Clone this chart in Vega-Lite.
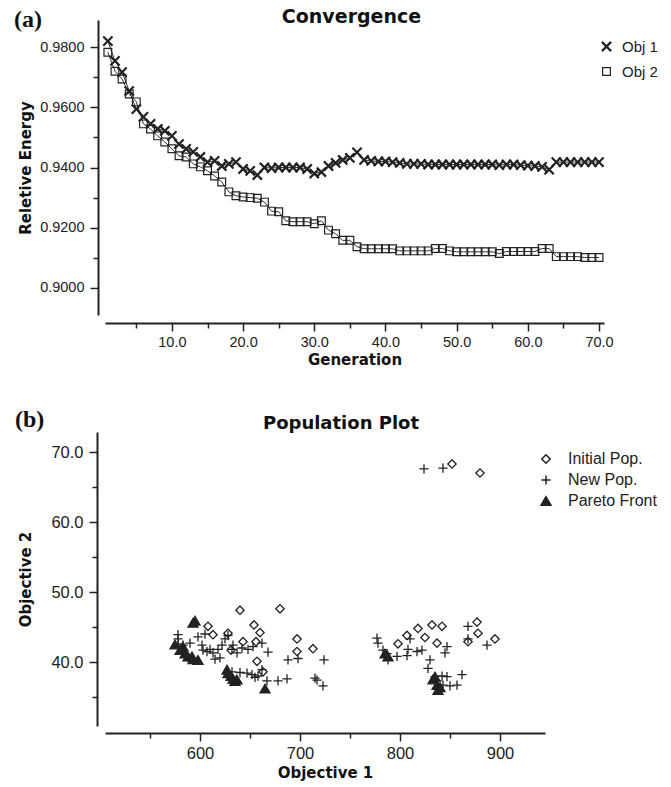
{
  "$schema": "https://vega.github.io/schema/vega-lite/v6.json",
  "background": "white",
  "padding": {"left": 13, "top": 8, "right": 5, "bottom": 5},
  "bounds": "flush",
  "spacing": 117,
  "resolve": {
    "scale": {"x": "independent", "y": "independent", "shape": "independent", "size": "independent", "strokeWidth": "independent", "fill": "independent"},
    "legend": {"shape": "independent", "fill": "independent", "size": "independent", "strokeWidth": "independent"}
  },
  "config": {
    "view": {"stroke": null},
    "font": "Liberation Sans",
    "axis": {
      "grid": false,
      "domainColor": "#222",
      "domainWidth": 2,
      "tickColor": "#222",
      "tickWidth": 1.5,
      "labelFont": "Liberation Sans",
      "labelFontSize": 14.5,
      "labelColor": "#222",
      "titleFont": "DejaVu Sans",
      "titleFontWeight": "bold",
      "titleFontSize": 15,
      "titleColor": "#111"
    },
    "legend": {"padding": 0}
  },
  "vconcat": [
    {
      "width": 499,
      "height": 295,
      "title": {"text": "Convergence", "font": "DejaVu Sans", "fontSize": 19, "fontWeight": "bold", "color": "#111", "offset": -19, "dx": -3},
      "data": {"values": [
        {"g":1,"Obj 1":0.9820,"Obj 2":0.9783},{"g":2,"Obj 1":0.9754,"Obj 2":0.9720},{"g":3,"Obj 1":0.9717,"Obj 2":0.9694},
        {"g":4,"Obj 1":0.9654,"Obj 2":0.9644},{"g":5,"Obj 1":0.9594,"Obj 2":0.9618},{"g":6,"Obj 1":0.9568,"Obj 2":0.9545},
        {"g":7,"Obj 1":0.9545,"Obj 2":0.9528},{"g":8,"Obj 1":0.9528,"Obj 2":0.9505},{"g":9,"Obj 1":0.9522,"Obj 2":0.9485},
        {"g":10,"Obj 1":0.9505,"Obj 2":0.9462},{"g":11,"Obj 1":0.9478,"Obj 2":0.9439},{"g":12,"Obj 1":0.9462,"Obj 2":0.9435},
        {"g":13,"Obj 1":0.9452,"Obj 2":0.9412},{"g":14,"Obj 1":0.9435,"Obj 2":0.9402},{"g":15,"Obj 1":0.9418,"Obj 2":0.9389},
        {"g":16,"Obj 1":0.9422,"Obj 2":0.9372},{"g":17,"Obj 1":0.9405,"Obj 2":0.9352},{"g":18,"Obj 1":0.9412,"Obj 2":0.9319},
        {"g":19,"Obj 1":0.9418,"Obj 2":0.9306},{"g":20,"Obj 1":0.9395,"Obj 2":0.9302},{"g":21,"Obj 1":0.9389,"Obj 2":0.9300},
        {"g":22,"Obj 1":0.9375,"Obj 2":0.9298},{"g":23,"Obj 1":0.9400,"Obj 2":0.9285},{"g":24,"Obj 1":0.9398,"Obj 2":0.9255},
        {"g":25,"Obj 1":0.9400,"Obj 2":0.9253},{"g":26,"Obj 1":0.9400,"Obj 2":0.9223},{"g":27,"Obj 1":0.9400,"Obj 2":0.9220},
        {"g":28,"Obj 1":0.9400,"Obj 2":0.9220},{"g":29,"Obj 1":0.9395,"Obj 2":0.9220},{"g":30,"Obj 1":0.9380,"Obj 2":0.9213},
        {"g":31,"Obj 1":0.9385,"Obj 2":0.9223},{"g":32,"Obj 1":0.9405,"Obj 2":0.9192},{"g":33,"Obj 1":0.9415,"Obj 2":0.9180},
        {"g":34,"Obj 1":0.9425,"Obj 2":0.9158},{"g":35,"Obj 1":0.9432,"Obj 2":0.9158},{"g":36,"Obj 1":0.9450,"Obj 2":0.9137},
        {"g":37,"Obj 1":0.9425,"Obj 2":0.9130},{"g":38,"Obj 1":0.9422,"Obj 2":0.9130},{"g":39,"Obj 1":0.9420,"Obj 2":0.9130},
        {"g":40,"Obj 1":0.9420,"Obj 2":0.9130},{"g":41,"Obj 1":0.9418,"Obj 2":0.9130},{"g":42,"Obj 1":0.9415,"Obj 2":0.9123},
        {"g":43,"Obj 1":0.9412,"Obj 2":0.9123},{"g":44,"Obj 1":0.9412,"Obj 2":0.9123},{"g":45,"Obj 1":0.9412,"Obj 2":0.9123},
        {"g":46,"Obj 1":0.9410,"Obj 2":0.9123},{"g":47,"Obj 1":0.9410,"Obj 2":0.9131},{"g":48,"Obj 1":0.9410,"Obj 2":0.9131},
        {"g":49,"Obj 1":0.9410,"Obj 2":0.9123},{"g":50,"Obj 1":0.9410,"Obj 2":0.9120},{"g":51,"Obj 1":0.9410,"Obj 2":0.9120},
        {"g":52,"Obj 1":0.9410,"Obj 2":0.9120},{"g":53,"Obj 1":0.9410,"Obj 2":0.9120},{"g":54,"Obj 1":0.9410,"Obj 2":0.9120},
        {"g":55,"Obj 1":0.9410,"Obj 2":0.9120},{"g":56,"Obj 1":0.9408,"Obj 2":0.9114},{"g":57,"Obj 1":0.9410,"Obj 2":0.9121},
        {"g":58,"Obj 1":0.9410,"Obj 2":0.9121},{"g":59,"Obj 1":0.9408,"Obj 2":0.9121},{"g":60,"Obj 1":0.9406,"Obj 2":0.9121},
        {"g":61,"Obj 1":0.9405,"Obj 2":0.9121},{"g":62,"Obj 1":0.9402,"Obj 2":0.9131},{"g":63,"Obj 1":0.9393,"Obj 2":0.9131},
        {"g":64,"Obj 1":0.9418,"Obj 2":0.9104},{"g":65,"Obj 1":0.9418,"Obj 2":0.9104},{"g":66,"Obj 1":0.9418,"Obj 2":0.9104},
        {"g":67,"Obj 1":0.9418,"Obj 2":0.9104},{"g":68,"Obj 1":0.9418,"Obj 2":0.9101},{"g":69,"Obj 1":0.9418,"Obj 2":0.9101},
        {"g":70,"Obj 1":0.9418,"Obj 2":0.9101}
      ]},
      "encoding": {
        "x": {"field": "g", "type": "quantitative", "scale": {"domain": [0.6, 70.7], "nice": false, "zero": false},
          "axis": {"title": "Generation", "offset": 8, "values": [5,10,15,20,25,30,35,40,45,50,55,60,65,70],
            "labelExpr": "datum.value % 10 == 0 ? format(datum.value, '.1f') : ''",
            "tickSize": {"condition": {"test": "datum.value % 10 == 0", "value": 8}, "value": 5},
            "labelPadding": 4, "titlePadding": 4}},
        "y": {"field": "value", "type": "quantitative", "scale": {"domain": [0.891, 0.989], "nice": false, "zero": false},
          "axis": {"title": "Reletive Energy", "offset": 7, "values": [0.90,0.91,0.92,0.93,0.94,0.95,0.96,0.97,0.98],
            "labelExpr": "round(datum.value*100) % 2 == 0 ? format(datum.value, '.4f') : ''",
            "tickSize": {"condition": {"test": "round(datum.value*100) % 2 == 0", "value": 8}, "value": 5},
            "labelPadding": 6, "titlePadding": 6}}
      },
      "layer": [
        {
          "transform": [{"fold": ["Obj 1", "Obj 2"], "as": ["series", "value"]}],
          "mark": {"type": "line", "color": "#333", "strokeWidth": 1},
          "encoding": {"detail": {"field": "series"}}
        },
        {
          "transform": [{"fold": ["Obj 1", "Obj 2"], "as": ["series", "value"]}],
          "mark": {"type": "point", "filled": false, "color": "#222", "opacity": 1},
          "encoding": {
            "shape": {"field": "series", "type": "nominal",
              "scale": {"domain": ["Obj 1", "Obj 2"], "range": ["M-1,-1L1,1M-1,1L1,-1", "square"]},
              "legend": {"title": null, "orient": "right", "offset": -24, "padding": 19, "labelFont": "Liberation Sans", "labelFontSize": 15,
                "labelColor": "#222", "symbolStrokeColor": "#222", "symbolFillColor": "transparent", "labelOffset": 8, "rowPadding": 8}},
            "size": {"field": "series", "type": "nominal", "scale": {"domain": ["Obj 1", "Obj 2"], "range": [85, 60]},
              "legend": {"title": null, "orient": "right", "offset": -24, "padding": 19, "labelFont": "Liberation Sans", "labelFontSize": 15,
                "labelColor": "#222", "symbolStrokeColor": "#222", "symbolFillColor": "transparent", "labelOffset": 8, "rowPadding": 8}},
            "strokeWidth": {"field": "series", "type": "nominal", "scale": {"domain": ["Obj 1", "Obj 2"], "range": [2.2, 1.2]},
              "legend": {"title": null, "orient": "right", "offset": -24, "padding": 19, "labelFont": "Liberation Sans", "labelFontSize": 15,
                "labelColor": "#222", "symbolStrokeColor": "#222", "symbolFillColor": "transparent", "labelOffset": 8, "rowPadding": 8}}
          }
        },
        {
          "data": {"values": [{"lab": "(a)", "g": -12.2, "value": 0.989}]},
          "mark": {"type": "text", "font": "Liberation Serif", "fontWeight": "bold", "fontSize": 24, "align": "left", "baseline": "middle", "color": "#111"},
          "encoding": {"text": {"field": "lab"}}
        }
      ]
    },
    {
      "width": 440,
      "height": 294,
      "title": {"text": "Population Plot", "font": "DejaVu Sans", "fontSize": 18, "fontWeight": "bold", "color": "#111", "offset": -25, "dx": 16},
      "data": {"values": [
        {"x":640,"y":47.4,"p":"Initial Pop."},{"x":680,"y":47.6,"p":"Initial Pop."},{"x":608,"y":45.1,"p":"Initial Pop."},
        {"x":613,"y":43.9,"p":"Initial Pop."},{"x":654,"y":45.3,"p":"Initial Pop."},{"x":660,"y":44.2,"p":"Initial Pop."},
        {"x":628,"y":44.1,"p":"Initial Pop."},{"x":643,"y":42.9,"p":"Initial Pop."},{"x":656,"y":42.9,"p":"Initial Pop."},
        {"x":697,"y":43.3,"p":"Initial Pop."},{"x":697,"y":41.5,"p":"Initial Pop."},{"x":713,"y":41.9,"p":"Initial Pop."},
        {"x":631,"y":41.7,"p":"Initial Pop."},{"x":657,"y":40.1,"p":"Initial Pop."},{"x":663,"y":38.6,"p":"Initial Pop."},
        {"x":818,"y":44.8,"p":"Initial Pop."},{"x":832,"y":45.3,"p":"Initial Pop."},{"x":842,"y":45.1,"p":"Initial Pop."},
        {"x":807,"y":43.8,"p":"Initial Pop."},{"x":825,"y":43.5,"p":"Initial Pop."},{"x":837,"y":42.7,"p":"Initial Pop."},
        {"x":798,"y":42.6,"p":"Initial Pop."},{"x":877,"y":45.7,"p":"Initial Pop."},{"x":878,"y":44.1,"p":"Initial Pop."},
        {"x":895,"y":43.3,"p":"Initial Pop."},{"x":868,"y":42.9,"p":"Initial Pop."},{"x":852,"y":68.3,"p":"Initial Pop."},
        {"x":880,"y":67.0,"p":"Initial Pop."},
        {"x":578,"y":43.9,"p":"New Pop."},{"x":578,"y":43.3,"p":"New Pop."},{"x":578,"y":42.6,"p":"New Pop."},
        {"x":583,"y":42.4,"p":"New Pop."},{"x":590,"y":42.7,"p":"New Pop."},{"x":598,"y":43.6,"p":"New Pop."},
        {"x":602,"y":42.4,"p":"New Pop."},{"x":603,"y":41.7,"p":"New Pop."},{"x":607,"y":41.5,"p":"New Pop."},
        {"x":610,"y":41.8,"p":"New Pop."},{"x":613,"y":41.3,"p":"New Pop."},{"x":615,"y":40.4,"p":"New Pop."},
        {"x":618,"y":41.8,"p":"New Pop."},{"x":622,"y":42.4,"p":"New Pop."},{"x":625,"y":43.3,"p":"New Pop."},
        {"x":628,"y":43.8,"p":"New Pop."},{"x":632,"y":41.8,"p":"New Pop."},{"x":633,"y":42.4,"p":"New Pop."},
        {"x":637,"y":41.3,"p":"New Pop."},{"x":642,"y":42.0,"p":"New Pop."},{"x":648,"y":41.8,"p":"New Pop."},
        {"x":653,"y":42.2,"p":"New Pop."},{"x":662,"y":42.7,"p":"New Pop."},{"x":668,"y":41.4,"p":"New Pop."},
        {"x":688,"y":40.3,"p":"New Pop."},{"x":698,"y":40.5,"p":"New Pop."},{"x":724,"y":40.3,"p":"New Pop."},
        {"x":605,"y":44.0,"p":"New Pop."},{"x":620,"y":40.6,"p":"New Pop."},
        {"x":632,"y":38.6,"p":"New Pop."},{"x":640,"y":38.5,"p":"New Pop."},{"x":647,"y":38.4,"p":"New Pop."},
        {"x":652,"y":38.2,"p":"New Pop."},{"x":655,"y":37.8,"p":"New Pop."},{"x":658,"y":38.0,"p":"New Pop."},
        {"x":662,"y":38.9,"p":"New Pop."},{"x":667,"y":37.3,"p":"New Pop."},{"x":678,"y":37.3,"p":"New Pop."},
        {"x":687,"y":37.6,"p":"New Pop."},{"x":715,"y":37.7,"p":"New Pop."},{"x":717,"y":37.4,"p":"New Pop."},
        {"x":723,"y":36.6,"p":"New Pop."},
        {"x":777,"y":43.4,"p":"New Pop."},{"x":778,"y":42.7,"p":"New Pop."},{"x":783,"y":41.7,"p":"New Pop."},
        {"x":787,"y":41.2,"p":"New Pop."},{"x":788,"y":40.3,"p":"New Pop."},{"x":797,"y":40.8,"p":"New Pop."},
        {"x":807,"y":40.9,"p":"New Pop."},{"x":808,"y":41.8,"p":"New Pop."},{"x":810,"y":43.3,"p":"New Pop."},
        {"x":817,"y":41.5,"p":"New Pop."},{"x":822,"y":41.7,"p":"New Pop."},{"x":830,"y":40.3,"p":"New Pop."},
        {"x":828,"y":39.1,"p":"New Pop."},{"x":845,"y":41.3,"p":"New Pop."},{"x":847,"y":42.2,"p":"New Pop."},
        {"x":862,"y":38.2,"p":"New Pop."},{"x":868,"y":45.1,"p":"New Pop."},{"x":868,"y":43.3,"p":"New Pop."},
        {"x":887,"y":42.4,"p":"New Pop."},{"x":835,"y":37.9,"p":"New Pop."},{"x":842,"y":38.0,"p":"New Pop."},
        {"x":847,"y":37.9,"p":"New Pop."},{"x":843,"y":36.7,"p":"New Pop."},{"x":850,"y":36.6,"p":"New Pop."},
        {"x":857,"y":36.7,"p":"New Pop."},{"x":837,"y":37.3,"p":"New Pop."},
        {"x":824,"y":67.6,"p":"New Pop."},{"x":843,"y":67.7,"p":"New Pop."},
        {"x":575,"y":42.5,"p":"Pareto Front"},{"x":580,"y":41.7,"p":"Pareto Front"},{"x":583,"y":42.2,"p":"Pareto Front"},
        {"x":585,"y":41.2,"p":"Pareto Front"},{"x":588,"y":40.8,"p":"Pareto Front"},{"x":592,"y":40.8,"p":"Pareto Front"},
        {"x":593,"y":40.4,"p":"Pareto Front"},{"x":598,"y":40.3,"p":"Pareto Front"},{"x":593,"y":45.6,"p":"Pareto Front"},
        {"x":595,"y":45.9,"p":"Pareto Front"},{"x":627,"y":38.9,"p":"Pareto Front"},{"x":628,"y":38.4,"p":"Pareto Front"},
        {"x":631,"y":38.0,"p":"Pareto Front"},{"x":633,"y":37.6,"p":"Pareto Front"},{"x":635,"y":37.3,"p":"Pareto Front"},
        {"x":637,"y":37.5,"p":"Pareto Front"},{"x":665,"y":36.2,"p":"Pareto Front"},{"x":785,"y":41.2,"p":"Pareto Front"},
        {"x":788,"y":40.8,"p":"Pareto Front"},{"x":833,"y":37.5,"p":"Pareto Front"},{"x":835,"y":37.9,"p":"Pareto Front"},
        {"x":837,"y":36.7,"p":"Pareto Front"},{"x":838,"y":36.0,"p":"Pareto Front"},{"x":840,"y":36.4,"p":"Pareto Front"}
      ]},
      "encoding": {
        "x": {"field": "x", "type": "quantitative", "scale": {"domain": [505, 945], "nice": false, "zero": false},
          "axis": {"title": "Objective 1", "offset": 7, "values": [550,600,650,700,750,800,850,900], "labelFontSize": 16.5,
            "labelExpr": "datum.value % 100 == 0 ? format(datum.value, 'd') : ''",
            "tickSize": {"condition": {"test": "datum.value % 100 == 0", "value": 8}, "value": 5},
            "labelPadding": 4, "titlePadding": 4}},
        "y": {"field": "y", "type": "quantitative", "scale": {"domain": [30.86, 72.86], "nice": false, "zero": false},
          "axis": {"title": "Objective 2", "offset": 8, "values": [35,40,45,50,55,60,65,70], "labelFontSize": 16.5,
            "labelExpr": "datum.value % 10 == 0 ? format(datum.value, '.1f') : ''",
            "tickSize": {"condition": {"test": "datum.value % 10 == 0", "value": 8}, "value": 5},
            "labelPadding": 6, "titlePadding": 17}}
      },
      "layer": [
        {
          "mark": {"type": "point", "stroke": "#222", "strokeWidth": 1.3, "opacity": 1},
          "encoding": {
            "shape": {"field": "p", "type": "nominal",
              "scale": {"domain": ["Initial Pop.", "New Pop.", "Pareto Front"], "range": ["diamond", "M-1,0L1,0M0,-1L0,1", "triangle-up"]},
              "legend": {"title": null, "orient": "right", "offset": -26, "padding": 19, "labelFont": "Liberation Sans", "labelFontSize": 16,
                "labelColor": "#222", "labelOffset": 14, "rowPadding": 5,
                "encode": {"symbols": {"update": {"stroke": {"value": "#222"}, "strokeWidth": {"value": 1.3}}}}}},
            "fill": {"field": "p", "type": "nominal",
              "scale": {"domain": ["Initial Pop.", "New Pop.", "Pareto Front"], "range": ["transparent", "transparent", "#222"]},
              "legend": {"title": null, "orient": "right", "offset": -26, "padding": 19, "labelFont": "Liberation Sans", "labelFontSize": 16,
                "labelColor": "#222", "labelOffset": 14, "rowPadding": 5,
                "encode": {"symbols": {"update": {"stroke": {"value": "#222"}, "strokeWidth": {"value": 1.3}}}}}},
            "size": {"field": "p", "type": "nominal", "scale": {"domain": ["Initial Pop.", "New Pop.", "Pareto Front"], "range": [70, 100, 45]},
              "legend": {"title": null, "orient": "right", "offset": -26, "padding": 19, "labelFont": "Liberation Sans", "labelFontSize": 16,
                "labelColor": "#222", "labelOffset": 14, "rowPadding": 5,
                "encode": {"symbols": {"update": {"stroke": {"value": "#222"}, "strokeWidth": {"value": 1.3}}}}}}
          }
        },
        {
          "data": {"values": [{"lab": "(b)", "x": 415, "y": 74.57}]},
          "mark": {"type": "text", "font": "Liberation Serif", "fontWeight": "bold", "fontSize": 24, "align": "left", "baseline": "middle", "color": "#111"},
          "encoding": {"text": {"field": "lab"}}
        }
      ]
    }
  ]
}
